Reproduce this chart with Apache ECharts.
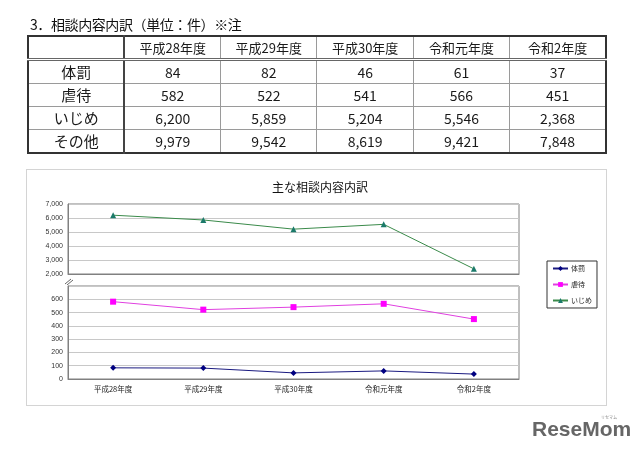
<!DOCTYPE html>
<html><head><meta charset="utf-8">
<script src="https://cdn.jsdelivr.net/npm/echarts@6/dist/echarts.min.js"></script>
<style>
body{margin:0;background:#fff;font-family:"Noto Sans CJK JP",sans-serif;width:640px;height:453px;overflow:hidden;}
#chart{position:absolute;left:0;top:0;width:640px;height:453px;}
#frame{position:absolute;left:26px;top:169px;width:579px;height:235px;border:1px solid #d4d4d4;}
#title{position:absolute;left:30px;top:14px;font-size:14px;line-height:20px;color:#111;white-space:nowrap;z-index:3;letter-spacing:-0.4px;}
#tbl{position:absolute;left:27px;top:35px;width:580px;table-layout:fixed;border-collapse:collapse;border:2px solid #333;z-index:3;background:#fff;}
#tbl td{border:1px solid #9a9a9a;text-align:center;padding:0;color:#1a1a1a;height:22px;line-height:20px;font-size:14px;overflow:hidden;}
#tbl tr.h td{height:21px;font-size:13px;border-bottom:3px double #666;}
#tbl td.lab{font-size:15px;border-right:2px solid #444;}
</style></head>
<body>
<div id="frame"></div>
<div id="chart"></div>
<div id="title">3．相談内容内訳（単位：件）※注</div>
<table id="tbl"></table>
<script>
var categories = ['平成28年度','平成29年度','平成30年度','令和元年度','令和2年度'];
var taibatsu = [84, 82, 46, 61, 37];
var gyakutai = [582, 522, 541, 566, 451];
var ijime = [6200, 5859, 5204, 5546, 2368];
var sonota = [9979, 9542, 8619, 9421, 7848];
var rowLabels = ['体罰','虐待','いじめ','その他'];
var upperTicks = [2000, 3000, 4000, 5000, 6000, 7000];
var lowerTicks = [0, 100, 200, 300, 400, 500, 600, 700];

// table
var rows = [taibatsu, gyakutai, ijime, sonota];
var fmt = function(v){ return v.toLocaleString('en-US'); };
var html = '<tr class="h"><td class="lab"></td>' + categories.map(function(c){return '<td>'+c+'</td>';}).join('') + '</tr>';
rows.forEach(function(r, i){
  html += '<tr><td class="lab">' + rowLabels[i] + '</td>' + r.map(function(v){return '<td>'+fmt(v)+'</td>';}).join('') + '</tr>';
});
document.getElementById('tbl').innerHTML = html;

var chart = echarts.init(document.getElementById('chart'), null, {renderer:'canvas'});
var font = '"Noto Sans CJK JP", sans-serif';
var axisGray = '#808080';
var option = {
  animation: false,
  textStyle: {fontFamily: font},
  title: {text: '主な相談内容内訳', left: 'center', top: 181, padding: 0,
    textStyle: {fontSize: 12, fontWeight: 'normal', color: '#111', fontFamily: font}},
  legend: {
    orient: 'vertical', left: 547, top: 261, padding: [4, 5],
    borderColor: '#333', borderWidth: 1, backgroundColor: '#fff',
    itemWidth: 15, itemHeight: 6, itemGap: 9,
    textStyle: {fontSize: 7, color: '#222', fontFamily: font, padding: [0,0,0,-2]},
    data: ['体罰','虐待','いじめ']
  },
  grid: [
    {left: 68, top: 204, width: 451, height: 70, show: true, borderColor: axisGray, borderWidth: 1},
    {left: 68, top: 286, width: 451, height: 93, show: true, borderColor: axisGray, borderWidth: 1}
  ],
  xAxis: [
    {gridIndex: 0, type: 'category', data: categories, axisLabel: {show: false}, axisTick: {show: false},
      axisLine: {lineStyle: {color: axisGray}}},
    {gridIndex: 1, type: 'category', data: categories,
      axisLine: {lineStyle: {color: axisGray}},
      axisTick: {inside: true, length: 3, lineStyle: {color: axisGray}},
      axisLabel: {fontSize: 7.5, color: '#222', margin: 6, fontFamily: font}}
  ],
  yAxis: [
    {gridIndex: 0, type: 'value', min: upperTicks[0], max: upperTicks[upperTicks.length-1], interval: 1000,
      axisLine: {show: true, lineStyle: {color: axisGray}}, axisTick: {show: false},
      splitLine: {lineStyle: {color: '#c8c8c8'}},
      axisLabel: {fontSize: 7, color: '#333', margin: 5, fontFamily: 'Liberation Sans, Arial, sans-serif', formatter: function(v){return fmt(v);}}},
    {gridIndex: 1, type: 'value', min: lowerTicks[0], max: lowerTicks[lowerTicks.length-1], interval: 100,
      axisLine: {show: true, lineStyle: {color: axisGray}}, axisTick: {show: false},
      splitLine: {lineStyle: {color: '#c8c8c8'}},
      axisLabel: {fontSize: 7, color: '#333', margin: 5, fontFamily: 'Liberation Sans, Arial, sans-serif', formatter: function(v){return v === 700 ? '' : fmt(v);}}}
  ],
  series: [
    {name: '体罰', type: 'line', xAxisIndex: 1, yAxisIndex: 1, data: taibatsu,
      symbol: 'diamond', symbolSize: 6, lineStyle: {color: '#1a1a80', width: 1}, itemStyle: {color: '#000080'}},
    {name: '虐待', type: 'line', xAxisIndex: 1, yAxisIndex: 1, data: gyakutai,
      symbol: 'rect', symbolSize: 6, lineStyle: {color: '#e040e0', width: 1}, itemStyle: {color: '#ff00ff'}},
    {name: 'いじめ', type: 'line', xAxisIndex: 0, yAxisIndex: 0, data: ijime,
      symbol: 'triangle', symbolSize: 6, lineStyle: {color: '#3a8a4a', width: 1}, itemStyle: {color: '#1b7a6a'}}
  ],
  graphic: [
    {type: 'line', shape: {x1: 65, y1: 284, x2: 71, y2: 279}, style: {stroke: '#666', lineWidth: 1}},
    {type: 'line', shape: {x1: 67, y1: 285, x2: 73, y2: 280}, style: {stroke: '#666', lineWidth: 1}},
    {type: 'text', left: 532, top: 420, style: {text: 'ReseMom', fill: '#666', font: 'bold 21px "Liberation Sans", Arial, sans-serif'}},
    {type: 'text', left: 601, top: 415, style: {text: 'リセマム', fill: '#888', font: '4px "Noto Sans CJK JP"'}}
  ]
};
chart.setOption(option);
</script>
</body></html>
